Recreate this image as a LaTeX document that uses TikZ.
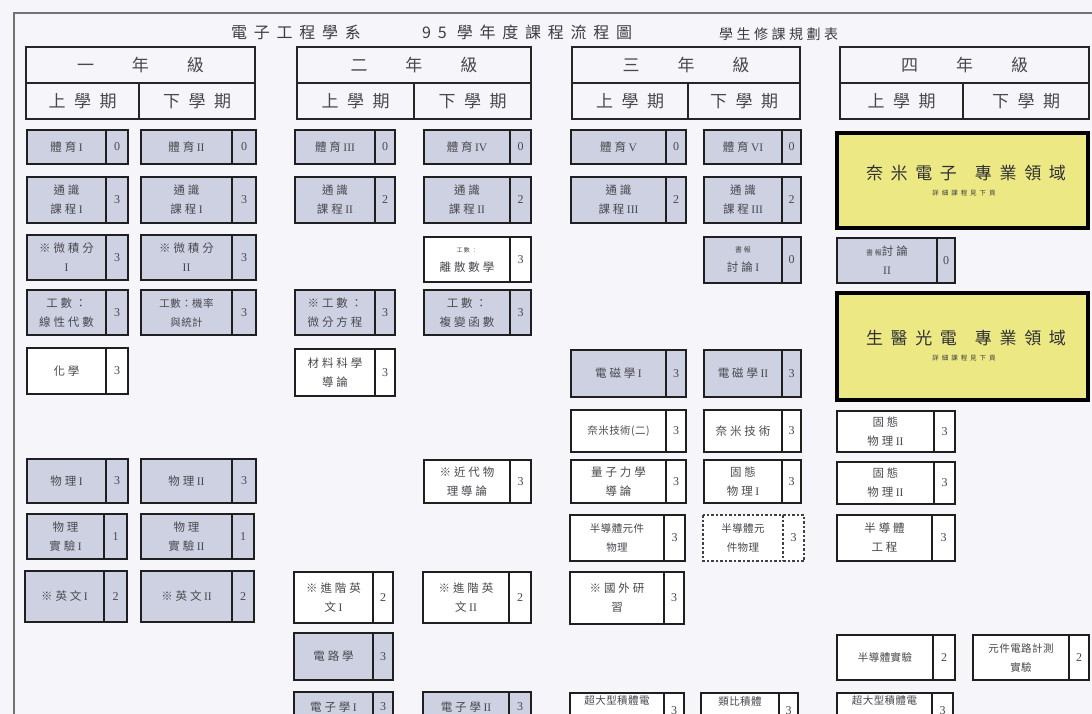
\documentclass[tikz,border=0pt]{standalone}
\usepackage{fontspec}
\setmainfont{Noto Sans CJK TC}
\newfontfamily\ctf{Noto Sans CJK TC}[LetterSpace=25]
\newfontfamily\ctn{Noto Sans CJK TC}[LetterSpace=4]
\newfontfamily\ttf{Noto Sans CJK TC}[LetterSpace=42]
\newfontfamily\hdf{Noto Sans CJK TC}[LetterSpace=50]
\newfontfamily\ysf{Noto Sans CJK TC}[LetterSpace=45]
\newfontfamily\lat{Liberation Serif}
\newcommand\R[1]{\hspace{2.5pt}{\lat #1}}
\newcommand\Rn[1]{{\lat #1}}
\definecolor{pagebg}{RGB}{246,246,250}
\definecolor{crsfill}{RGB}{206,209,226}
\definecolor{yel}{RGB}{236,232,132}
\definecolor{inkc}{RGB}{72,72,78}
\definecolor{ttlc}{RGB}{60,60,65}
\tikzset{
  framel/.style={draw=black!55, line width=1.6pt},
  hline/.style={draw=black!85, line width=2.2pt},
  gbox/.style={draw=black!88, line width=2.6pt, fill=crsfill},
  wbox/.style={draw=black!88, line width=2.6pt, fill=white},
  dbox/.style={draw=black!75, line width=1.4pt, fill=white, dash pattern=on 2.5pt off 2pt},
  ybox/.style={draw=black, line width=4.5pt, fill=yel},
  ctext/.style={text=inkc, align=center, inner sep=0pt, font=\ctf\fontsize{11.5}{19}\selectfont},
  ntext/.style={ctext, font=\ctn\fontsize{10.5}{19}\selectfont},
  numtext/.style={text=inkc, inner sep=0pt, font=\lat\fontsize{12}{12}\selectfont},
  htext/.style={text=inkc, inner sep=0pt, font=\hdf\fontsize{17}{17}\selectfont},
  ttext/.style={text=ttlc, inner sep=0pt, anchor=west, font=\ttf\fontsize{16}{16}\selectfont},
  ymain/.style={text=ttlc!80!black, inner sep=0pt, font=\ysf\fontsize{17}{17}\selectfont},
  ysub/.style={text=ttlc, inner sep=0pt, font=\ysf\fontsize{6.5}{6.5}\selectfont},
}
% course box: name, style, x1, y1, xsplit, x2, y2, text, credit
\newcommand\crs[9]{%
  \draw[#2] (#3,#4) rectangle (#6,#7);
  \draw[#2, fill=none] (#5,#4) -- (#5,#7);
  \node[ctext] (#1) at ({(#3+#5)/2},{(#4+#7)/2}) {#8};
  \node[numtext] (#1c) at ({(#5+#6)/2},{(#4+#7)/2}) {#9};
}
% long-text course box
\newcommand\crsn[9]{%
  \draw[#2] (#3,#4) rectangle (#6,#7);
  \draw[#2, fill=none] (#5,#4) -- (#5,#7);
  \node[ntext] (#1) at ({(#3+#5)/2},{(#4+#7)/2}) {#8};
  \node[numtext] (#1c) at ({(#5+#6)/2},{(#4+#7)/2}) {#9};
}
% year header: name, x1, xsplit, x2, year text
\newcommand\yhdr[5]{%
  \draw[hline] (#2,47) rectangle (#4,119);
  \draw[hline] (#2,83) -- (#4,83) (#3,83) -- (#3,119);
  \node[htext] (#1y) at ({(#2+#4)/2},65) {#5};
  \node[htext] (#1a) at ({(#2+#3)/2},101) {上學期};
  \node[htext] (#1b) at ({(#3+#4)/2},101) {下學期};
}
\begin{document}
\begin{tikzpicture}[x=1pt,y=-1pt]
\useasboundingbox (0,0) rectangle (1092,714);
\clip (0,0) rectangle (1092,714);
\fill[pagebg] (0,0) rectangle (1092,714);
\draw[framel] (14,730) -- (14,13) -- (1100,13);

% title
\node[ttext] (t1) at (231,32) {電子工程學系};
\node[ttext] (t2) at (422,32) {95 學年度課程流程圖};
\node[ttext, font=\ctf\fontsize{14}{14}\selectfont] (t3) at (719,34) {學生修課規劃表};

% headers
\yhdr{ya}{26}{139}{255}{一\hspace{38pt}年\hspace{38pt}級}
\yhdr{yb}{297}{414}{531}{二\hspace{38pt}年\hspace{38pt}級}
\yhdr{yc}{572}{688}{800}{三\hspace{38pt}年\hspace{38pt}級}
\yhdr{yd}{840}{963}{1089}{四\hspace{38pt}年\hspace{38pt}級}

% row 1
\crs{pe1}{gbox}{27}{130}{106}{128}{164}{體育\R{I}}{0}
\crs{pe2}{gbox}{141}{130}{232}{256}{164}{體育\R{II}}{0}
\crs{pe3}{gbox}{295}{130}{375}{395}{164}{體育\R{III}}{0}
\crs{pe4}{gbox}{424}{130}{510}{531}{164}{體育\R{IV}}{0}
\crs{pe5}{gbox}{571}{130}{666}{686}{164}{體育\R{V}}{0}
\crs{pe6}{gbox}{704}{130}{782}{801}{164}{體育\R{VI}}{0}
% row 2
\crs{ge1}{gbox}{27}{177}{106}{128}{223}{通識\\課程\R{I}}{3}
\crs{ge2}{gbox}{141}{177}{232}{256}{223}{通識\\課程\R{I}}{3}
\crs{ge3}{gbox}{295}{177}{375}{395}{223}{通識\\課程\R{II}}{2}
\crs{ge4}{gbox}{424}{177}{510}{531}{223}{通識\\課程\R{II}}{2}
\crs{ge5}{gbox}{571}{177}{666}{686}{223}{通識\\課程\R{III}}{2}
\crs{ge6}{gbox}{704}{177}{782}{801}{223}{通識\\課程\R{III}}{2}
% row 3
\crs{calc1}{gbox}{27}{235}{106}{128}{280}{※微積分\\\Rn{I}}{3}
\crs{calc2}{gbox}{141}{235}{232}{256}{280}{※微積分\\\Rn{II}}{3}
\crs{disc}{wbox}{424}{237}{510}{531}{282}{{\fontsize{6}{6}\selectfont 工數：}\\離散數學}{3}
\crs{sem1}{gbox}{704}{237}{782}{801}{283}{{\fontsize{7}{7}\selectfont 書報}\\討論\R{I}}{0}
\crs{sem2}{gbox}{837}{238}{937}{955}{283}{{\fontsize{7}{7}\selectfont 書報}討論\\\Rn{II}}{0}
% row 4
\crs{la}{gbox}{27}{290}{106}{128}{335}{工數：\\線性代數}{3}
\crsn{prob}{gbox}{141}{290}{232}{256}{335}{工數：機率\\與統計}{3}
\crs{ode}{gbox}{295}{290}{375}{395}{335}{※工數：\\微分方程}{3}
\crs{cplx}{gbox}{424}{290}{510}{531}{335}{工數：\\複變函數}{3}
% row 5
\crs{chem}{wbox}{27}{348}{106}{128}{394}{化學}{3}
\crs{mat}{wbox}{295}{349}{375}{395}{396}{材料科學\\導論}{3}
\crs{em1}{gbox}{571}{350}{666}{686}{397}{電磁學\R{I}}{3}
\crs{em2}{gbox}{704}{350}{782}{801}{397}{電磁學\R{II}}{3}
% row 6
\crsn{nano1}{wbox}{571}{410}{666}{686}{452}{奈米技術(二)}{3}
\crs{nano2}{wbox}{704}{410}{782}{801}{452}{奈米技術}{3}
\crs{ss2a}{wbox}{837}{411}{934}{955}{452}{固態\\物理\R{II}}{3}
% row 7
\crs{ph1}{gbox}{27}{459}{106}{128}{503}{物理\R{I}}{3}
\crs{ph2}{gbox}{141}{459}{232}{256}{503}{物理\R{II}}{3}
\crs{modp}{wbox}{424}{460}{510}{531}{503}{※近代物\\理導論}{3}
\crs{qm}{wbox}{571}{460}{666}{686}{503}{量子力學\\導論}{3}
\crs{ss1}{wbox}{704}{460}{782}{801}{503}{固態\\物理\R{I}}{3}
\crs{ss2b}{wbox}{837}{462}{934}{955}{504}{固態\\物理\R{II}}{3}
% row 8
\crs{pl1}{gbox}{27}{514}{104}{127}{559}{物理\\實驗\R{I}}{1}
\crs{pl2}{gbox}{141}{514}{232}{254}{559}{物理\\實驗\R{II}}{1}
\crsn{sdp1}{wbox}{570}{515}{664}{685}{561}{半導體元件\\物理}{3}
\crsn{sdp2}{dbox}{703}{515}{783}{804}{561}{半導體元\\件物理}{3}
\crs{sde}{wbox}{837}{515}{932}{955}{561}{半導體\\工程}{3}
% row 9
\crs{en1}{gbox}{25}{571}{104}{127}{622}{※英文\R{I}}{2}
\crs{en2}{gbox}{141}{571}{232}{254}{622}{※英文\R{II}}{2}
\crs{aen1}{wbox}{294}{572}{373}{393}{623}{※進階英\\文\R{I}}{2}
\crs{aen2}{wbox}{423}{572}{509}{531}{623}{※進階英\\文\R{II}}{2}
\crs{abr}{wbox}{570}{572}{664}{684}{624}{※國外研\\習}{3}
% row 10
\crs{ckt}{gbox}{294}{633}{373}{393}{680}{電路學}{3}
\crsn{sdl}{wbox}{837}{635}{933}{955}{680}{半導體實驗}{2}
\crsn{dml}{wbox}{973}{635}{1069}{1089}{680}{元件電路計測\\實驗}{2}
% row 11 (cut by the lower edge, as in the scan)
\crs{el1}{gbox}{294}{692}{373}{393}{722}{電子學\R{I}}{3}
\crs{el2}{gbox}{423}{692}{509}{531}{722}{電子學\R{II}}{3}
\crsn{vlsi1}{wbox}{570}{693}{664}{684}{728}{超大型積體電\\路設計實驗}{3}
\crsn{ana}{wbox}{701}{693}{779}{798}{728}{類比積體\\電路}{3}
\crsn{vlsi2}{wbox}{837}{693}{932}{953}{728}{超大型積體電\\路設計實驗}{3}

% specialisation boxes
\draw[ybox] (837,133) rectangle (1088,228);
\node[ymain] (nanoA) at (966,173) {奈米電子\hspace{18pt}專業領域};
\node[ysub] (nanoB) at (964,193) {詳細課程見下頁};
\draw[ybox] (837,293) rectangle (1088,400);
\node[ymain] (bioA) at (966,338) {生醫光電\hspace{18pt}專業領域};
\node[ysub] (bioB) at (964,358) {詳細課程見下頁};
\end{tikzpicture}
\end{document}
